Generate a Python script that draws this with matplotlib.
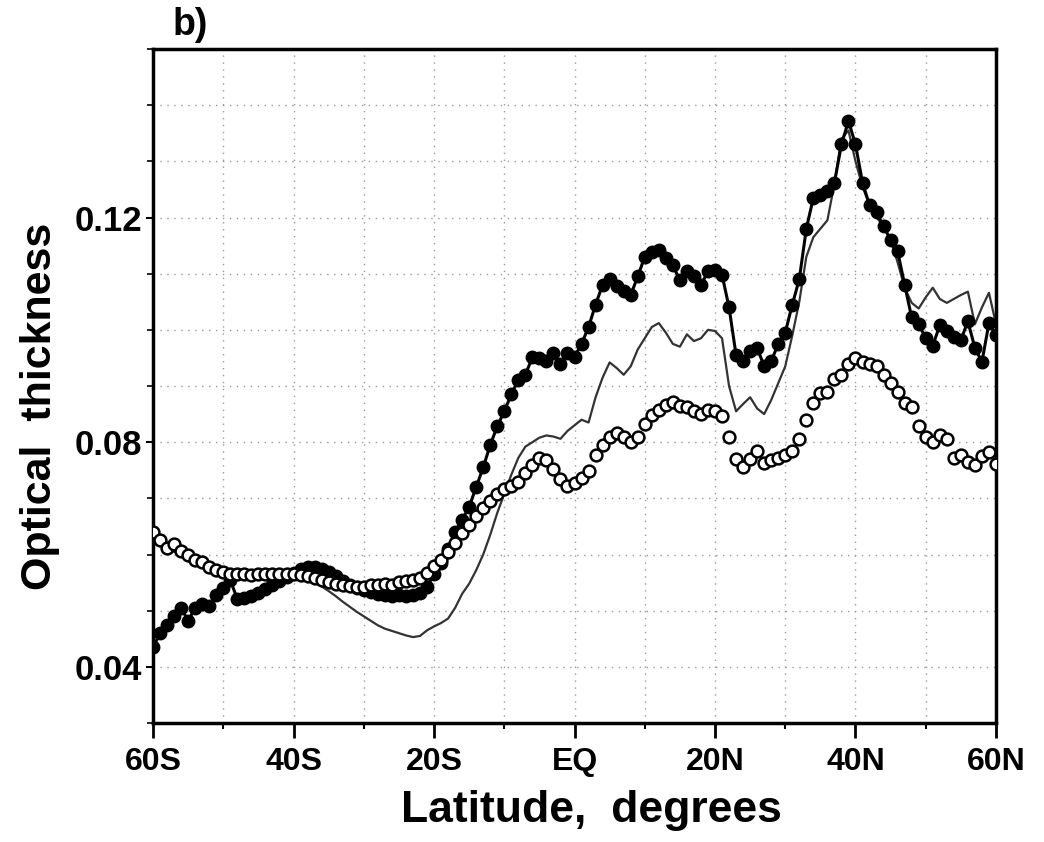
import matplotlib
matplotlib.use('Agg')
import matplotlib.pyplot as plt
import numpy as np

# latitude, 1 degree steps, 60S..60N (negative = south)
lat = np.arange(-60, 61, 1)

# filled circles
filled = [0.0435, 0.0460, 0.0475, 0.0490, 0.0505, 0.0482, 0.0505, 0.0512, 0.0508, 0.0528,
          0.0540, 0.0555, 0.0520, 0.0522, 0.0527, 0.0532, 0.0538, 0.0545, 0.0552, 0.0560,
          0.0567, 0.0574, 0.0577, 0.0577, 0.0575, 0.0568, 0.0561, 0.0553, 0.0545, 0.0540,
          0.0537, 0.0534, 0.0530, 0.0528, 0.0527, 0.0528, 0.0527, 0.0528, 0.0532, 0.0542,
          0.0565, 0.0585, 0.0610, 0.0640, 0.0662, 0.0685, 0.0720, 0.0755, 0.0795, 0.0828,
          0.0855, 0.0885, 0.0911, 0.0920, 0.0951, 0.0950, 0.0945, 0.0958, 0.0940, 0.0958,
          0.0952, 0.0975, 0.1005, 0.1045, 0.1080, 0.1090, 0.1078, 0.1070, 0.1062, 0.1095,
          0.1130, 0.1138, 0.1143, 0.1128, 0.1115, 0.1088, 0.1104, 0.1095, 0.1080, 0.1104,
          0.1106, 0.1098, 0.1040, 0.0955, 0.0945, 0.0962, 0.0968, 0.0935, 0.0944, 0.0975,
          0.0995, 0.1045, 0.1090, 0.1180, 0.1235, 0.1240, 0.1248, 0.1262, 0.1330, 0.1372,
          0.1330, 0.1262, 0.1222, 0.1210, 0.1184, 0.1160, 0.1140, 0.1080, 0.1022, 0.1010,
          0.0985, 0.0972, 0.1008, 0.0998, 0.0988, 0.0982, 0.1015, 0.0968, 0.0943, 0.1012,
          0.0990]

# open circles
opened = [0.0640, 0.0625, 0.0612, 0.0618, 0.0606, 0.0600, 0.0590, 0.0586, 0.0578, 0.0572,
          0.0568, 0.0566, 0.0565, 0.0566, 0.0564, 0.0565, 0.0566, 0.0565, 0.0566, 0.0565,
          0.0566, 0.0564, 0.0562, 0.0558, 0.0555, 0.0551, 0.0548, 0.0546, 0.0544, 0.0542,
          0.0543, 0.0546, 0.0545, 0.0547, 0.0546, 0.0551, 0.0553, 0.0555, 0.0558, 0.0567,
          0.0579, 0.0590, 0.0605, 0.0620, 0.0638, 0.0652, 0.0668, 0.0683, 0.0695, 0.0707,
          0.0716, 0.0722, 0.0730, 0.0745, 0.0760, 0.0772, 0.0768, 0.0752, 0.0735, 0.0722,
          0.0728, 0.0736, 0.0748, 0.0778, 0.0795, 0.0810, 0.0817, 0.0810, 0.0801, 0.0810,
          0.0833, 0.0848, 0.0858, 0.0866, 0.0872, 0.0865, 0.0862, 0.0856, 0.0850, 0.0857,
          0.0856, 0.0847, 0.0810, 0.0770, 0.0756, 0.0770, 0.0785, 0.0763, 0.0768, 0.0772,
          0.0778, 0.0785, 0.0805, 0.0840, 0.0870, 0.0888, 0.0890, 0.0913, 0.0920, 0.0940,
          0.0950, 0.0942, 0.0940, 0.0936, 0.0920, 0.0905, 0.0890, 0.0870, 0.0862, 0.0828,
          0.0810, 0.0800, 0.0812, 0.0805, 0.0772, 0.0778, 0.0765, 0.0760, 0.0776, 0.0782,
          0.0762]

# thin line
thin = [0.0625, 0.0615, 0.0608, 0.0605, 0.0598, 0.0592, 0.0585, 0.0580, 0.0574, 0.0570,
        0.0566, 0.0564, 0.0562, 0.0563, 0.0562, 0.0563, 0.0564, 0.0565, 0.0566, 0.0566,
        0.0566, 0.0562, 0.0556, 0.0550, 0.0543, 0.0535, 0.0526, 0.0516, 0.0507, 0.0498,
        0.0490, 0.0482, 0.0474, 0.0468, 0.0464, 0.0460, 0.0456, 0.0453, 0.0455, 0.0465,
        0.0472, 0.0478, 0.0486, 0.0505, 0.0530, 0.0548, 0.0572, 0.0600, 0.0635, 0.0674,
        0.0708, 0.0742, 0.0772, 0.0792, 0.0800, 0.0808, 0.0812, 0.0810, 0.0806, 0.0820,
        0.0830, 0.0840, 0.0835, 0.0880, 0.0915, 0.0942, 0.0932, 0.0920, 0.0935, 0.0965,
        0.0985, 0.1005, 0.1012, 0.0995, 0.0975, 0.0970, 0.0992, 0.0980, 0.0985, 0.1000,
        0.0998, 0.0985, 0.0900, 0.0855, 0.0868, 0.0880, 0.0860, 0.0850, 0.0875, 0.0905,
        0.0935, 0.0990, 0.1050, 0.1130, 0.1165, 0.1180, 0.1195, 0.1260, 0.1340, 0.1355,
        0.1300, 0.1255, 0.1222, 0.1200, 0.1185, 0.1160, 0.1120, 0.1075, 0.1048, 0.1038,
        0.1058, 0.1075, 0.1055, 0.1048, 0.1055, 0.1062, 0.1068, 0.1010, 0.1040, 0.1066,
        0.1010]

xticks = [-60, -40, -20, 0, 20, 40, 60]
xticklabels = ['60S', '40S', '20S', 'EQ', '20N', '40N', '60N']
yticks = [0.04, 0.08, 0.12]
yticklabels = ['0.04', '0.08', '0.12']

plt.rcParams['font.family'] = ['Liberation Sans', 'DejaVu Sans']
plt.rcParams['font.weight'] = 'bold'

fig = plt.figure(figsize=(10.44, 8.42), dpi=100)
ax = fig.add_axes([0.1466, 0.1413, 0.8074, 0.8005])

ax.plot(lat, thin, color='#333333', lw=1.6, zorder=2)
ax.plot(lat, filled, color='black', lw=2.2, marker='o', ms=9, mfc='black', mec='black', zorder=3)
ax.plot(lat, opened, linestyle='none', marker='o', ms=8.5, mfc='white', mec='black', mew=1.8, zorder=4)

ax.set_xlim(-60, 60)
ax.set_ylim(0.03, 0.15)
ax.set_xticks(xticks)
ax.set_xticklabels(xticklabels)
ax.set_xticks(np.arange(-50, 60, 20), minor=True)
ax.set_yticks(yticks)
ax.set_yticklabels(yticklabels)
ax.set_yticks(np.arange(0.03, 0.151, 0.01), minor=True)

ax.grid(which='both', color='#999999', linestyle=(0, (1, 4)), linewidth=1)
ax.set_axisbelow(True)

ax.tick_params(axis='x', which='major', direction='out', length=11, width=2, labelsize=23, pad=6)
ax.tick_params(axis='x', which='minor', direction='out', length=4, width=1.5)
ax.tick_params(axis='y', which='major', direction='out', length=5, width=1.5, labelsize=25, pad=3)
ax.tick_params(axis='y', which='minor', direction='out', length=4, width=1.2)
for sp in ax.spines.values():
    sp.set_linewidth(2.5)

ax.set_xlabel('Latitude,  degrees', fontsize=32, fontweight='bold')
ax.set_ylabel('Optical  thickness', fontsize=31, fontweight='bold')
ax.xaxis.set_label_coords(0.52, -0.099)
ax.yaxis.set_label_coords(-0.110, 0.47)

fig.text(0.165, 0.958, 'b)', fontsize=27, fontweight='bold')

plt.savefig('out.png', dpi=100)
